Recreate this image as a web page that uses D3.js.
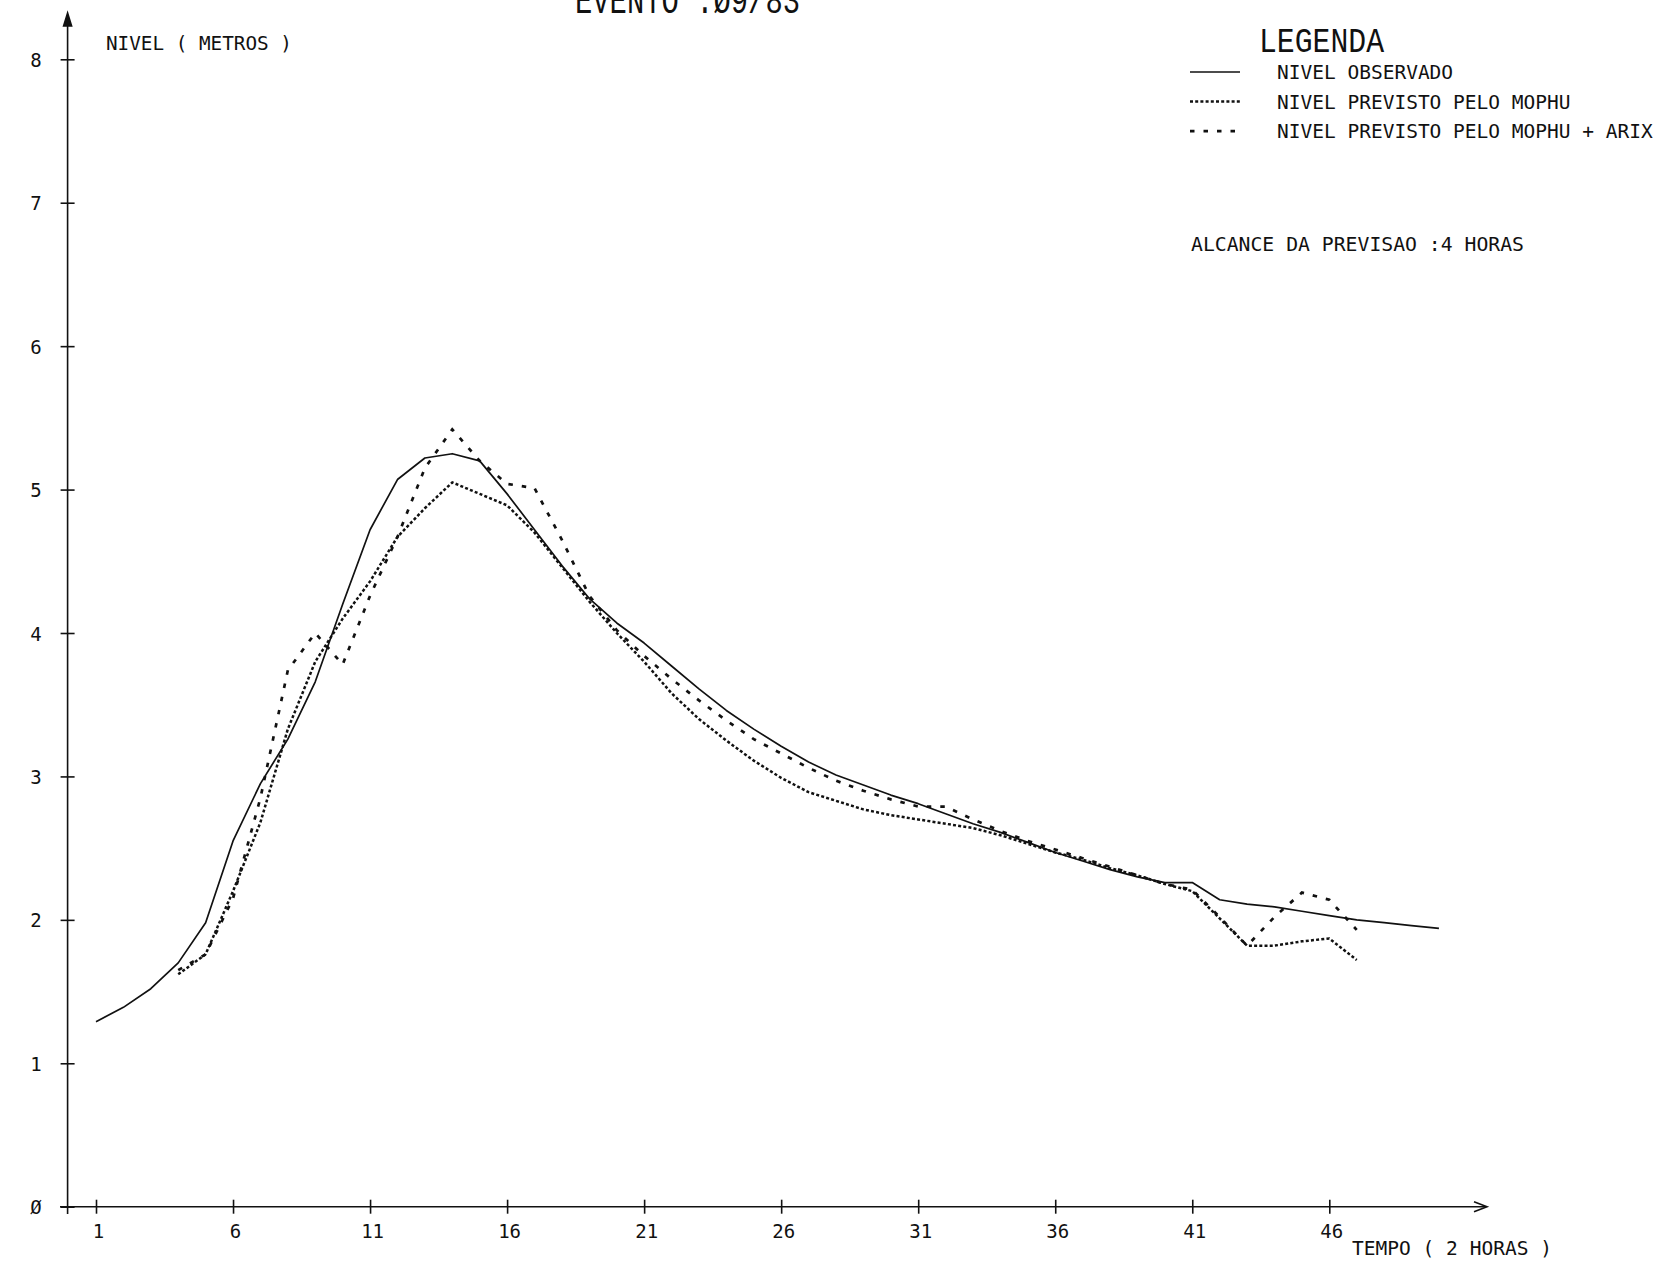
<!DOCTYPE html>
<html>
<head>
<meta charset="utf-8">
<script src="https://cdn.jsdelivr.net/npm/d3@7"></script>
<style>
  html, body { margin: 0; padding: 0; background: #fff; }
  svg { display: block; }
  text { fill: #111; }
</style>
</head>
<body>
<svg id="chart" width="1659" height="1261"></svg>
<script>
// ---------------- DATA ----------------
const titleText = "EVENTO :Ø9/83";
const yAxisTitle = "NIVEL ( METROS )";
const xAxisTitle = "TEMPO ( 2 HORAS )";
const legendTitle = "LEGENDA";
const legendLabels = ["NIVEL OBSERVADO", "NIVEL PREVISTO PELO MOPHU", "NIVEL PREVISTO PELO MOPHU + ARIX"];
const noteText = "ALCANCE DA PREVISAO :4 HORAS";

const xTickValues = [1, 6, 11, 16, 21, 26, 31, 36, 41, 46];
const yTickValues = [0, 1, 2, 3, 4, 5, 6, 7, 8];
const yTickLabels = ["Ø", "1", "2", "3", "4", "5", "6", "7", "8"];

const timeObserved = [1,2,3,4,5,6,7,8,9,10,11,12,13,14,15,16,17,18,19,20,21,22,23,24,25,26,27,28,29,30,31,32,33,34,35,36,37,38,39,40,41,42,43,44,45,46,47,48,49,50];
const nivelObservado = [1.29,1.39,1.52,1.70,1.98,2.55,2.95,3.26,3.66,4.20,4.72,5.07,5.22,5.25,5.20,4.97,4.72,4.47,4.24,4.07,3.93,3.77,3.61,3.46,3.33,3.21,3.10,3.01,2.94,2.87,2.81,2.74,2.67,2.61,2.54,2.47,2.41,2.35,2.30,2.26,2.26,2.14,2.11,2.09,2.06,2.03,2.00,1.98,1.96,1.94];

const timePrevisto = [4,5,6,7,8,9,10,11,12,13,14,15,16,17,18,19,20,21,22,23,24,25,26,27,28,29,30,31,32,33,34,35,36,37,38,39,40,41,42,43,44,45,46,47];
const nivelMophu = [1.62,1.76,2.20,2.68,3.33,3.80,4.10,4.36,4.67,4.87,5.05,4.97,4.89,4.70,4.46,4.22,4.00,3.80,3.58,3.40,3.25,3.11,2.99,2.89,2.83,2.77,2.73,2.70,2.67,2.64,2.59,2.53,2.47,2.42,2.36,2.31,2.25,2.20,2.01,1.82,1.82,1.85,1.87,1.72];
const nivelMophuArix = [1.65,1.76,2.15,2.85,3.74,4.00,3.78,4.26,4.67,5.15,5.42,5.20,5.04,5.01,4.65,4.26,4.02,3.84,3.68,3.53,3.39,3.26,3.16,3.06,2.97,2.90,2.84,2.79,2.79,2.70,2.62,2.55,2.49,2.43,2.37,2.31,2.25,2.21,2.02,1.82,2.02,2.19,2.14,1.93];

// ---------------- CHART ----------------
const svg = d3.select("#chart");
const ink = "#111";
const mono = "'DejaVu Sans Mono', 'Liberation Mono', monospace";

const x = d3.scaleLinear().domain([1, 46]).range([96, 1329.3]);
const y = d3.scaleLinear().domain([0, 8]).range([1206.7, 59.3]);

const x0 = x(0) - 1;      // y-axis position
const y0 = y(0);          // x-axis position

// axes lines with arrows
const axisG = svg.append("g").attr("stroke", ink).attr("fill", "none").attr("stroke-width", 1.6);
axisG.append("line").attr("x1", 60).attr("x2", 1486).attr("y1", y0).attr("y2", y0);
axisG.append("line").attr("x1", x0).attr("x2", x0).attr("y1", 1214).attr("y2", 15);
axisG.append("path").attr("d", `M1474,${y0-5} L1487,${y0} L1474,${y0+5}`);
axisG.append("path").attr("d", `M${x0-4},26 L${x0},13 L${x0+4},26 Z`).attr("fill", ink);

// x axis ticks via d3 axis
const xAxis = d3.axisBottom(x).tickValues(xTickValues).tickSize(7).tickFormat(d => d);
const gx = svg.append("g").attr("transform", `translate(0,${y0})`).call(xAxis);
gx.select(".domain").remove();
gx.selectAll(".tick line").attr("y1", -7).attr("y2", 7).attr("stroke", ink).attr("stroke-width", 1.6);
gx.selectAll(".tick text")
  .attr("y", 31).attr("dy", 0).attr("dx", 2)
  .attr("font-family", mono).attr("font-size", 19).attr("fill", ink);

// y axis ticks via d3 axis
const yAxis = d3.axisLeft(y).tickValues(yTickValues).tickSize(7).tickFormat((d, i) => yTickLabels[i]);
const gy = svg.append("g").attr("transform", `translate(${x0},0)`).call(yAxis);
gy.select(".domain").remove();
gy.selectAll(".tick line").attr("x1", -7).attr("x2", 7).attr("stroke", ink).attr("stroke-width", 1.6);
gy.selectAll(".tick text")
  .attr("x", 36 - x0).attr("dy", 7).attr("text-anchor", "middle")
  .attr("font-family", mono).attr("font-size", 19).attr("fill", ink);

// series lines
const line = d3.line().x(d => x(d[0])).y(d => y(d[1]));
const obs = timeObserved.map((t, i) => [t, nivelObservado[i]]);
const mophu = timePrevisto.map((t, i) => [t, nivelMophu[i]]);
const arix = timePrevisto.map((t, i) => [t, nivelMophuArix[i]]);

const dotDash = "3,2.2";
const arixDash = "4.5,9";

svg.append("path").datum(mophu).attr("d", line)
  .attr("fill", "none").attr("stroke", ink).attr("stroke-width", 2.5)
  .attr("stroke-dasharray", dotDash);
svg.append("path").datum(arix).attr("d", line)
  .attr("fill", "none").attr("stroke", ink).attr("stroke-width", 2.7)
  .attr("stroke-dasharray", arixDash);
svg.append("path").datum(obs).attr("d", line)
  .attr("fill", "none").attr("stroke", ink).attr("stroke-width", 1.7)
  .attr("stroke-linejoin", "round");

// titles
svg.append("text").text(titleText)
  .attr("x", 575).attr("y", 13).attr("font-family", "'Liberation Mono', monospace")
  .attr("font-size", 38).attr("textLength", 225).attr("lengthAdjust", "spacingAndGlyphs");

svg.append("text").text(yAxisTitle)
  .attr("x", 106).attr("y", 50).attr("font-family", mono).attr("font-size", 19)
  .attr("textLength", 186).attr("lengthAdjust", "spacingAndGlyphs");

svg.append("text").text(xAxisTitle)
  .attr("x", 1352).attr("y", 1255).attr("font-family", mono).attr("font-size", 19)
  .attr("textLength", 200).attr("lengthAdjust", "spacingAndGlyphs");

// legend
svg.append("text").text(legendTitle)
  .attr("x", 1259).attr("y", 52).attr("font-family", "'Liberation Mono', monospace")
  .attr("font-size", 35).attr("textLength", 125).attr("lengthAdjust", "spacingAndGlyphs");

const legendStyles = [
  { dash: null, width: 1.7 },
  { dash: dotDash, width: 2.5 },
  { dash: arixDash, width: 2.7 }
];
const legendRowY = [72, 101.6, 131.2];
legendLabels.forEach((lab, i) => {
  const ln = svg.append("line")
    .attr("x1", 1190).attr("x2", 1240).attr("y1", legendRowY[i]).attr("y2", legendRowY[i])
    .attr("stroke", ink).attr("stroke-width", legendStyles[i].width);
  if (legendStyles[i].dash) ln.attr("stroke-dasharray", legendStyles[i].dash);
  svg.append("text").text(lab)
    .attr("x", 1277).attr("y", legendRowY[i] + 7)
    .attr("font-family", mono).attr("font-size", 19.5);
});

svg.append("text").text(noteText)
  .attr("x", 1191).attr("y", 251).attr("font-family", mono).attr("font-size", 19.5)
  .attr("textLength", 333).attr("lengthAdjust", "spacingAndGlyphs");
</script>
</body>
</html>
